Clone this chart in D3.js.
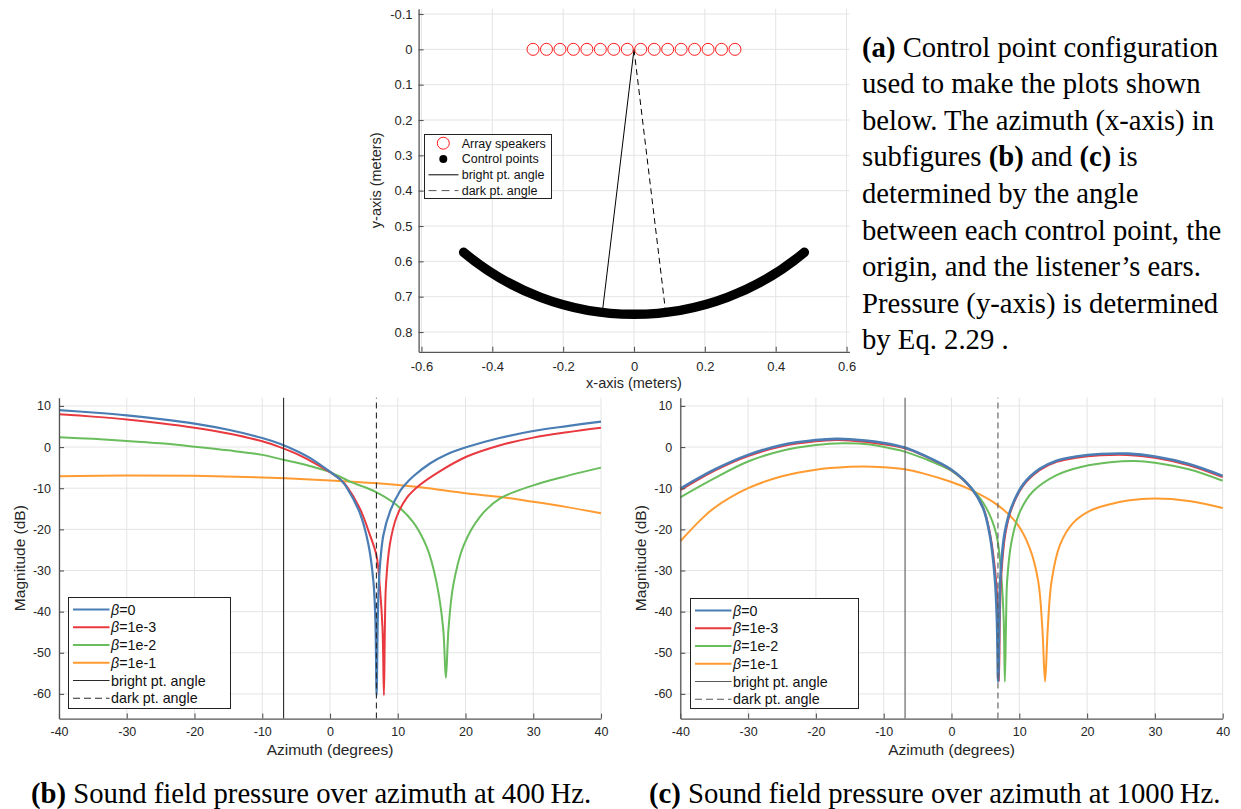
<!DOCTYPE html>
<html>
<head>
<meta charset="utf-8">
<script src="https://cdn.jsdelivr.net/npm/d3@7"></script>
<style>
  body { margin: 0; background: #fff; }
  svg { display: block; }
</style>
</head>
<body>
<svg id="fig" width="1241" height="809"></svg>
<script>
// ---- (a) control point configuration ----
const speakerX = [-0.285, -0.247, -0.209, -0.171, -0.133, -0.095, -0.057, -0.019,
                  0.019, 0.057, 0.095, 0.133, 0.171, 0.209, 0.247, 0.285];
const controlRadius = 0.748;          // metres
const controlAzimuthRange = [-40, 40]; // degrees
const angleLineLength = 0.738;
const brightAz = -6.85;
const darkAz = 6.85;
const topXTicks = [-0.6, -0.4, -0.2, 0, 0.2, 0.4, 0.6];
const topYTicks = [-0.1, 0, 0.1, 0.2, 0.3, 0.4, 0.5, 0.6, 0.7, 0.8];

// ---- (b), (c) magnitude over azimuth ----
const azTicks = [-40, -30, -20, -10, 0, 10, 20, 30, 40];
const dbTicks = [-60, -50, -40, -30, -20, -10, 0, 10];
const betaLabels = ["0", "1e-3", "1e-2", "1e-1"];
const betaColors = ["#4a7db4", "#e8393f", "#69bd5c", "#ff9b30"];

// 400 Hz
const beta0_400 = [[-40, 9.0], [-35, 8.4], [-30, 7.7], [-25, 6.8], [-20, 5.7], [-15, 4.2],
  [-10, 2.2], [-7.4, 0.8], [-5, -0.9], [-2.5, -3.1], [0, -6.0], [1.7, -8.2], [2.5, -9.9], [4.4, -16.0],
  [5.65, -23.5], [6.4, -32.5], [6.7, -42], [6.88, -60.3], [7.05, -42], [7.28, -31], [7.87, -21.5],
  [8.85, -15.7], [10.3, -10.8], [11.1, -9.1], [12.3, -7.1], [14.75, -4.0], [17.2, -1.8], [20.2, 0.0],
  [25, 2.2], [30, 3.9], [35, 5.1], [40, 6.2]];
const beta1e3_400 = [[-40, 8.0], [-35, 7.4], [-30, 6.7], [-25, 5.8], [-20, 4.7], [-15, 3.3],
  [-10, 1.4], [-7.4, 0.0], [-5, -1.6], [-2.5, -3.7], [0, -6.1], [1.7, -8.1], [2.5, -9.6], [4.4, -14.9],
  [5.9, -21.4], [6.88, -26.5], [7.37, -34.3], [7.75, -44], [7.96, -60.3], [8.1, -44], [8.26, -33.5],
  [8.85, -23.5], [9.83, -17.0], [11.3, -12.4], [13.2, -9.3], [16.2, -5.9], [20.2, -2.3],
  [25, 0.4], [30, 2.3], [35, 3.6], [40, 4.7]];
const beta1e2_400 = [[-40, 2.4], [-35, 2.0], [-30, 1.5], [-25, 0.9], [-20, 0.1], [-15, -0.8], [-10, -1.9],
  [-6.85, -3.1], [-3, -4.6], [0, -6.1], [2.46, -8.0], [3.2, -8.6], [4.9, -9.6], [6.88, -11.0],
  [9.6, -13.8], [12.3, -18.3], [14.3, -24.4], [15.7, -32.7], [16.7, -44], [17.1, -56.1], [17.5, -44],
  [18.2, -33.5], [19.7, -24], [22.1, -17], [25, -12.6], [30, -9.3], [35, -7.0], [40, -5.0]];
const beta1e1_400 = [[-40, -7.1], [-30, -6.9], [-20, -7.0], [-10, -7.4], [0, -8.1], [7, -8.8],
  [12.3, -9.6], [17.2, -10.6], [20, -11.2], [25, -12.1], [30, -13.3], [35, -14.6], [40, -16.1]];

// 1000 Hz
const beta0_1000 = [[-40, -10.1], [-35, -5.5], [-30, -1.9], [-25, 0.5], [-20, 1.7], [-17, 2.0], [-15, 1.9],
  [-10, 1.0], [-6.9, -0.1], [-4.2, -1.9], [0, -5.5], [2.95, -10.0], [4.67, -14.9], [5.65, -21.4],
  [6.4, -31.9], [6.7, -42], [6.88, -57], [7.05, -42], [7.2, -31.9], [7.87, -20.6], [8.85, -14.6],
  [10.6, -9.0], [13, -5.3], [15.5, -3.3], [18.4, -2.3], [22, -1.7], [26, -1.6], [30, -2.3],
  [35, -4.1], [40, -7.0]];
const beta1e3_1000 = [[-40, -10.5], [-35, -5.8], [-30, -2.2], [-25, 0.2], [-20, 1.4], [-17, 1.7], [-15, 1.6],
  [-10, 0.7], [-6.9, -0.3], [-4.2, -2.0], [0, -5.6], [2.95, -10.1], [4.67, -14.7], [5.65, -20.8],
  [6.4, -29.5], [6.8, -38], [7.0, -57], [7.15, -40], [7.35, -31], [7.95, -21], [8.85, -15.0],
  [10.6, -9.3], [13, -5.6], [15.5, -3.6], [18.4, -2.6], [22, -2.0], [26, -1.9], [30, -2.6],
  [35, -4.4], [40, -7.3]];
const beta1e2_1000 = [[-40, -12.2], [-35, -7.6], [-30, -3.5], [-25, -0.9], [-20, 0.5], [-16, 0.9], [-12, 0.6],
  [-9.1, -0.3], [-6.9, -1.1], [-4.2, -2.7], [0, -5.8], [2.95, -10.0], [5.16, -14.9], [6.64, -21.4],
  [7.37, -31.9], [7.7, -42], [7.87, -57], [8.05, -42], [8.2, -32.7], [8.85, -23], [10.1, -15.7],
  [12.0, -10.8], [15.5, -6.8], [19.4, -4.7], [23.4, -3.7], [27, -3.4], [30, -3.8], [35, -5.4],
  [40, -8.2]];
const beta1e1_1000 = [[-40, -22.9], [-37, -17.7], [-35, -14.8], [-30, -10.0], [-25, -7.1], [-20, -5.5],
  [-15, -4.8], [-13, -4.7], [-10, -4.9], [-6.9, -5.4], [-4.2, -6.4], [0, -8.5], [2.7, -10.3],
  [6.8, -14.1], [9.6, -18.5], [11.55, -24.6], [12.8, -32.7], [13.4, -44.1], [13.8, -57], [14.2, -44],
  [14.75, -32.7], [16.0, -23.8], [17.9, -18.5], [20.4, -15.5], [23.4, -13.9], [26, -13.0],
  [30, -12.5], [35, -13.1], [40, -14.8]];

// ---- captions ----
const captionA = [
  [["(a)", true], [" Control point configuration", false]],
  [["used to make the plots shown", false]],
  [["below. The azimuth (x-axis) in", false]],
  [["subfigures ", false], ["(b)", true], [" and ", false], ["(c)", true], [" is", false]],
  [["determined by the angle", false]],
  [["between each control point, the", false]],
  [["origin, and the listener\u2019s ears.", false]],
  [["Pressure (y-axis) is determined", false]],
  [["by Eq. 2.29 .", false]]
];
const captionB = [["(b)", true], [" Sound field pressure over azimuth at 400\u2009Hz.", false]];
const captionC = [["(c)", true], [" Sound field pressure over azimuth at 1000\u2009Hz.", false]];

const SANS = "'Liberation Sans', Arial, Helvetica, sans-serif";
const SERIF = "'Liberation Serif', 'Times New Roman', serif";
const axisColor = "#555";
const gridColor = "#e4e4e4";
const textColor = "#262626";

const svg = d3.select("#fig");

function fmt(d) { return String(d); }

function drawGrid(g, x, y, xTicks, yTicks) {
  g.append("g").selectAll("line").data(xTicks).enter().append("line")
    .attr("x1", d => x(d)).attr("x2", d => x(d))
    .attr("y1", y.range()[0]).attr("y2", y.range()[1])
    .attr("stroke", gridColor).attr("stroke-width", 1);
  g.append("g").selectAll("line").data(yTicks).enter().append("line")
    .attr("y1", d => y(d)).attr("y2", d => y(d))
    .attr("x1", x.range()[0]).attr("x2", x.range()[1])
    .attr("stroke", gridColor).attr("stroke-width", 1);
}

function drawAxes(g, x, y, xTicks, yTicks, opt) {
  const bottom = Math.max(...y.range());
  const left = Math.min(...x.range());
  const xa = g.append("g")
    .attr("transform", `translate(0,${bottom})`)
    .call(d3.axisBottom(x).tickValues(xTicks).tickFormat(fmt)
      .tickSizeInner(-5).tickSizeOuter(0).tickPadding(opt.xPad));
  const ya = g.append("g")
    .attr("transform", `translate(${left},0)`)
    .call(d3.axisLeft(y).tickValues(yTicks).tickFormat(fmt)
      .tickSizeInner(-5).tickSizeOuter(0).tickPadding(opt.yPad));
  [xa, ya].forEach(a => {
    a.attr("font-family", SANS).attr("font-size", opt.fontSize);
    a.select(".domain").attr("stroke", axisColor).attr("stroke-width", 1.3);
    a.selectAll(".tick line").attr("stroke", axisColor).attr("stroke-width", 1.1);
    a.selectAll(".tick text").attr("fill", textColor);
  });
}

// ================= (a) top plot =================
const xTop = d3.scaleLinear().domain([-0.608, 0.608]).range([418.6, 849.4]);
const yTop = d3.scaleLinear().domain([-0.115, 0.856]).range([8.7, 351.8]);
const topG = svg.append("g");

drawGrid(topG, xTop, yTop, topXTicks, topYTicks);

// control points arc
const cx = xTop(0), cy = yTop(0);
const R = xTop(controlRadius) - xTop(0);
const toPix = a => (90 - a) * Math.PI / 180;
const arcPath = d3.path();
arcPath.moveTo(cx + R * Math.cos(toPix(controlAzimuthRange[0])), cy + R * Math.sin(toPix(controlAzimuthRange[0])));
arcPath.arc(cx, cy, R, toPix(controlAzimuthRange[0]), toPix(controlAzimuthRange[1]), true);
topG.append("path")
  .attr("d", arcPath.toString())
  .attr("fill", "none")
  .attr("stroke", "#000")
  .attr("stroke-width", 9.5)
  .attr("stroke-linecap", "round");

// bright / dark angle lines
[[brightAz, null], [darkAz, "6,4"]].forEach(([a, dash]) => {
  const r = a * Math.PI / 180;
  topG.append("line")
    .attr("x1", xTop(0)).attr("y1", yTop(0))
    .attr("x2", xTop(angleLineLength * Math.sin(r)))
    .attr("y2", yTop(angleLineLength * Math.cos(r)))
    .attr("stroke", "#000").attr("stroke-width", 1)
    .attr("stroke-dasharray", dash);
});

// array speakers
topG.append("g").selectAll("circle").data(speakerX).enter().append("circle")
  .attr("cx", d => xTop(d)).attr("cy", yTop(0)).attr("r", 6)
  .attr("fill", "none").attr("stroke", "#ff1a1a").attr("stroke-width", 1);

drawAxes(topG, xTop, yTop, topXTicks, topYTicks, { xPad: 9.5, yPad: 6, fontSize: 13 });

topG.append("text")
  .attr("x", 634).attr("y", 388)
  .attr("text-anchor", "middle")
  .attr("font-family", SANS).attr("font-size", 14.5).attr("fill", textColor)
  .text("x-axis (meters)");
topG.append("text")
  .attr("transform", `translate(381,${(8.7 + 351.8) / 2}) rotate(-90)`)
  .attr("text-anchor", "middle")
  .attr("font-family", SANS).attr("font-size", 14.5).attr("fill", textColor)
  .text("y-axis (meters)");

// top legend
const tl = topG.append("g");
tl.append("rect").attr("x", 424.5).attr("y", 134.5).attr("width", 127).attr("height", 64)
  .attr("fill", "#fff").attr("stroke", "#222").attr("stroke-width", 1);
const topLegend = ["Array speakers", "Control points", "bright pt. angle", "dark pt. angle"];
topLegend.forEach((label, i) => {
  const yy = 143.2 + i * 15.8;
  if (i === 0) tl.append("circle").attr("cx", 443.3).attr("cy", yy).attr("r", 6)
    .attr("fill", "none").attr("stroke", "#ff1a1a");
  if (i === 1) tl.append("circle").attr("cx", 443.3).attr("cy", yy).attr("r", 4).attr("fill", "#000");
  if (i >= 2) tl.append("line").attr("x1", 428.5).attr("x2", 458.5).attr("y1", yy).attr("y2", yy)
    .attr("stroke", i === 2 ? "#000" : "#555").attr("stroke-width", 1)
    .attr("stroke-dasharray", i === 3 ? "8,5" : null);
  tl.append("text").attr("x", 461.7).attr("y", yy + 4.4)
    .attr("font-family", SANS).attr("font-size", 12.5).attr("fill", "#111")
    .text(label);
});

// ================= (b), (c) bottom plots =================
const yBot = d3.scaleLinear().domain([-66, 12]).range([718.6, 397.7]);

function drawPanel(cfg) {
  const x = d3.scaleLinear().domain([-40, 40]).range([cfg.x0, cfg.x1]);
  const g = svg.append("g");
  drawGrid(g, x, yBot, azTicks, dbTicks);

  const line = d3.line()
    .x(d => x(d[0])).y(d => yBot(d[1]))
    .curve(d3.curveCatmullRom.alpha(0.5));

  // draw orange first, blue last
  for (let i = cfg.series.length - 1; i >= 0; i--) {
    g.append("path").datum(cfg.series[i])
      .attr("d", line)
      .attr("fill", "none")
      .attr("stroke", betaColors[i])
      .attr("stroke-width", i === 0 ? cfg.blueWidth : 2)
      .attr("stroke-linejoin", "round");
  }

  // bright / dark reference lines
  g.append("line").attr("x1", x(brightAz)).attr("x2", x(brightAz))
    .attr("y1", yBot.range()[0]).attr("y2", yBot.range()[1])
    .attr("stroke", cfg.refColor).attr("stroke-width", 1.1);
  g.append("line").attr("x1", x(darkAz)).attr("x2", x(darkAz))
    .attr("y1", yBot.range()[0]).attr("y2", yBot.range()[1])
    .attr("stroke", cfg.refColor).attr("stroke-width", 1.1)
    .attr("stroke-dasharray", "6,4");

  drawAxes(g, x, yBot, azTicks, dbTicks, { xPad: 9, yPad: 8, fontSize: 12.5 });

  g.append("text")
    .attr("x", x(0)).attr("y", 755)
    .attr("text-anchor", "middle")
    .attr("font-family", SANS).attr("font-size", 15.5).attr("fill", textColor)
    .text("Azimuth (degrees)");
  g.append("text")
    .attr("transform", `translate(${cfg.yLabelX},${(397.7 + 718.6) / 2}) rotate(-90)`)
    .attr("text-anchor", "middle")
    .attr("font-family", SANS).attr("font-size", 15.5).attr("fill", textColor)
    .text("Magnitude (dB)");

  // legend
  const L = cfg.legend;
  const lg = g.append("g");
  lg.append("rect").attr("x", L.x).attr("y", L.y).attr("width", L.w).attr("height", L.h)
    .attr("fill", "#fff").attr("stroke", "#222").attr("stroke-width", 1);
  const rows = betaLabels.length + 2;
  for (let i = 0; i < rows; i++) {
    const yy = L.y + 12 + i * 17.75;
    const color = i < 4 ? betaColors[i] : cfg.refColor;
    lg.append("line").attr("x1", L.x + 4.5).attr("x2", L.x + 41).attr("y1", yy).attr("y2", yy)
      .attr("stroke", color).attr("stroke-width", i < 4 ? 2 : 1.2)
      .attr("stroke-dasharray", i === 5 ? "7,4" : null);
    const t = lg.append("text").attr("x", L.x + 42.5).attr("y", yy + 5)
      .attr("font-family", SANS).attr("font-size", 14.3).attr("fill", "#111");
    if (i < 4) {
      t.append("tspan").attr("font-style", "italic").text("\u03b2");
      t.append("tspan").text("=" + betaLabels[i]);
    } else {
      t.text(i === 4 ? "bright pt. angle" : "dark pt. angle");
    }
  }
}

drawPanel({
  x0: 59, x1: 601, yLabelX: 25, refColor: "#2a2a2a", blueWidth: 2.2,
  series: [beta0_400, beta1e3_400, beta1e2_400, beta1e1_400],
  legend: { x: 68.5, y: 597.5, w: 162, h: 111 }
});
drawPanel({
  x0: 680.3, x1: 1222.7, yLabelX: 646, refColor: "#5a5a5a", blueWidth: 2.6,
  series: [beta0_1000, beta1e3_1000, beta1e2_1000, beta1e1_1000],
  legend: { x: 690.5, y: 598.5, w: 168, h: 110 }
});

// ================= captions =================
function caption(parts, x, y) {
  const t = svg.append("text").attr("x", x).attr("y", y)
    .attr("font-family", SERIF).attr("font-size", 28.7).attr("fill", "#000")
    .attr("xml:space", "preserve").style("white-space", "pre");
  parts.forEach(([s, bold]) => {
    t.append("tspan").attr("font-weight", bold ? "bold" : "normal").text(s);
  });
}
captionA.forEach((line, i) => caption(line, 862, 56.5 + i * 36.6));
caption(captionB, 31, 803);
caption(captionC, 649, 803);
</script>
</body>
</html>
